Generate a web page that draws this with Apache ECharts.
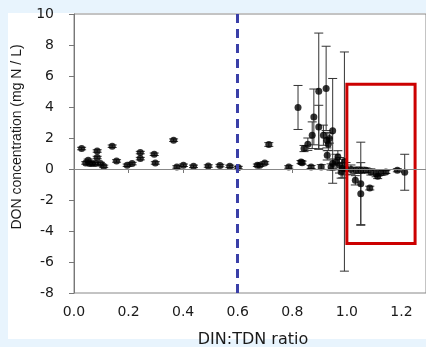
<!DOCTYPE html>
<html>
<head>
<meta charset="utf-8">
<script src="https://cdn.jsdelivr.net/npm/echarts@6/dist/echarts.min.js"></script>
<style>
html,body{margin:0;padding:0;background:#e8f4fd;}
#c{width:426px;height:347px;}
</style>
</head>
<body>
<div id="c"></div>
<script>
// DIN:TDN ratio (x), DON concentration (y), error (+/-)
const ratio = [
  0.028,0.043,0.052,0.057,0.067,0.085,0.085,0.079,0.097,0.109,
  0.140,0.156,0.195,0.213,0.243,0.243,0.294,0.298,0.365,0.377,
  0.401,0.438,0.492,0.535,0.571,0.602,0.672,0.681,0.699,0.714,
  0.787,
  0.821,0.836,0.843,0.857,0.832,0.869,0.873,0.879,0.897,0.897,
  0.906,0.914,0.924,0.927,0.932,0.928,0.936,0.942,0.948,0.948,
  0.960,0.967,0.973,0.985,0.979,0.991,0.997,
  1.015,1.031,1.033,1.051,1.051,1.051,1.070,1.084,1.088,1.107,
  1.113,1.125,1.143,1.185,1.212
];
const don = [
  1.32,0.39,0.56,0.35,0.35,1.16,0.74,0.35,0.35,0.17,
  1.47,0.52,0.24,0.35,1.06,0.67,0.95,0.39,1.86,0.13,
  0.24,0.17,0.19,0.22,0.17,0.09,0.24,0.24,0.39,1.58,
  0.13,
  3.97,0.41,1.32,1.60,0.45,0.13,2.18,3.36,2.71,5.02,
  0.13,2.18,5.20,1.86,1.60,0.88,1.97,0.13,2.46,0.35,
  0.45,0.78,0.24,0.03,-0.19,0.48,0.02,
  -0.04,-0.73,-0.08,-0.95,-1.59,-0.08,-0.08,-1.23,-0.19,-0.30,
  -0.47,-0.26,-0.19,-0.08,-0.21
];
const donErr = [
  0.08,0.08,0.08,0.08,0.08,0.08,0.08,0.08,0.08,0.08,
  0.08,0.08,0.08,0.08,0.08,0.08,0.08,0.08,0.08,0.08,
  0.08,0.08,0.08,0.08,0.08,0.08,0.08,0.08,0.08,0.12,
  0.08,
  1.42,0.10,0.20,0.40,0.10,0.10,0.86,1.80,1.40,3.75,
  0.15,0.65,2.72,0.50,0.40,0.30,0.30,0.20,3.38,0.30,
  0.50,0.40,0.50,0.60,0.40,7.07,0.40,
  0.30,0.30,0.20,2.68,2.00,0.20,0.15,0.12,0.20,0.20,
  0.15,0.15,0.10,0.10,1.16
];
const xTickLabels = ['0.0','0.2','0.4','0.6','0.8','1.0','1.2'];
const threshold = 0.6;
const boxX = [1.0, 1.25];
const boxY = [-4.8, 5.47];

const pts = ratio.map((x,i)=>[x, don[i], donErr[i]]);

const chart = echarts.init(document.getElementById('c'), null, {renderer:'canvas'});
const font = 'DejaVu Sans';
chart.setOption({
  animation:false,
  backgroundColor:'transparent',
  graphic:[
    {type:'rect', z:-100, shape:{x:8,y:13,width:418,height:326}, style:{fill:'#ffffff'}},
    {type:'text', x:17, y:137, rotation:Math.PI/2, z:10,
      style:{text:'DON concentration (mg N / L)', fontFamily:'Liberation Sans', fontSize:14, fill:'#1a1a1a', align:'center', verticalAlign:'middle'}},
    {type:'text', x:253, y:340, z:10,
      style:{text:'DIN:TDN ratio', fontFamily:font, fontSize:16, fill:'#1a1a1a', align:'center', verticalAlign:'middle'}}
  ],
  grid:{left:74, right:-2, top:14, bottom:54, show:true, borderColor:'#888', borderWidth:1, backgroundColor:'transparent', containLabel:false},
  xAxis:{
    type:'value', min:0, max:1.29, interval:0.2,
    axisLine:{show:true, lineStyle:{color:'#777', width:1}},
    axisTick:{show:true, inside:false, length:4, lineStyle:{color:'#777'}},
    splitLine:{show:false},
    axisLabel:{showMaxLabel:false, margin:12, fontFamily:font, fontSize:14, color:'#1a1a1a',
      formatter:(v)=>{const i=Math.round(v/0.2); return Math.abs(v-i*0.2)<1e-6 ? xTickLabels[i] : '';}}
  },
  yAxis:{
    type:'value', min:-8, max:10, interval:2,
    axisLine:{show:true, lineStyle:{color:'#777', width:1}},
    axisTick:{show:true, inside:false, length:5, lineStyle:{color:'#777'}},
    splitLine:{show:false},
    axisLabel:{margin:20, fontFamily:font, fontSize:14, color:'#1a1a1a'}
  },
  series:[
    {
      type:'custom', z:3,
      data:pts,
      renderItem:function(params, api){
        const x = api.value(0), y = api.value(1), e = api.value(2);
        const top = api.coord([x, y+e]);
        const bot = api.coord([x, y-e]);
        const w = 4.5;
        const st = {stroke:'#333', lineWidth:1};
        return {type:'group', children:[
          {type:'line', shape:{x1:top[0], y1:top[1], x2:bot[0], y2:bot[1]}, style:st},
          {type:'line', shape:{x1:top[0]-w, y1:top[1], x2:top[0]+w, y2:top[1]}, style:st},
          {type:'line', shape:{x1:bot[0]-w, y1:bot[1], x2:bot[0]+w, y2:bot[1]}, style:st}
        ]};
      },
      markLine:{
        silent:true, symbol:'none', label:{show:false},
        data:[
          {yAxis:0, lineStyle:{color:'#888', width:1, type:'solid'}},
          {xAxis:threshold, lineStyle:{color:'#3a3fa8', width:3, type:[9,6]}}
        ]
      }
    },
    {
      type:'scatter', z:4,
      data:pts.map(p=>[p[0],p[1]]),
      symbol:'circle', symbolSize:7,
      itemStyle:{color:'#000'},
      markArea:{
        silent:true, z:5,
        itemStyle:{color:'rgba(0,0,0,0)', borderColor:'#cc0000', borderWidth:3},
        data:[[{coord:[boxX[0], boxY[1]]},{coord:[boxX[1], boxY[0]]}]]
      }
    }
  ]
});
</script>
</body>
</html>
